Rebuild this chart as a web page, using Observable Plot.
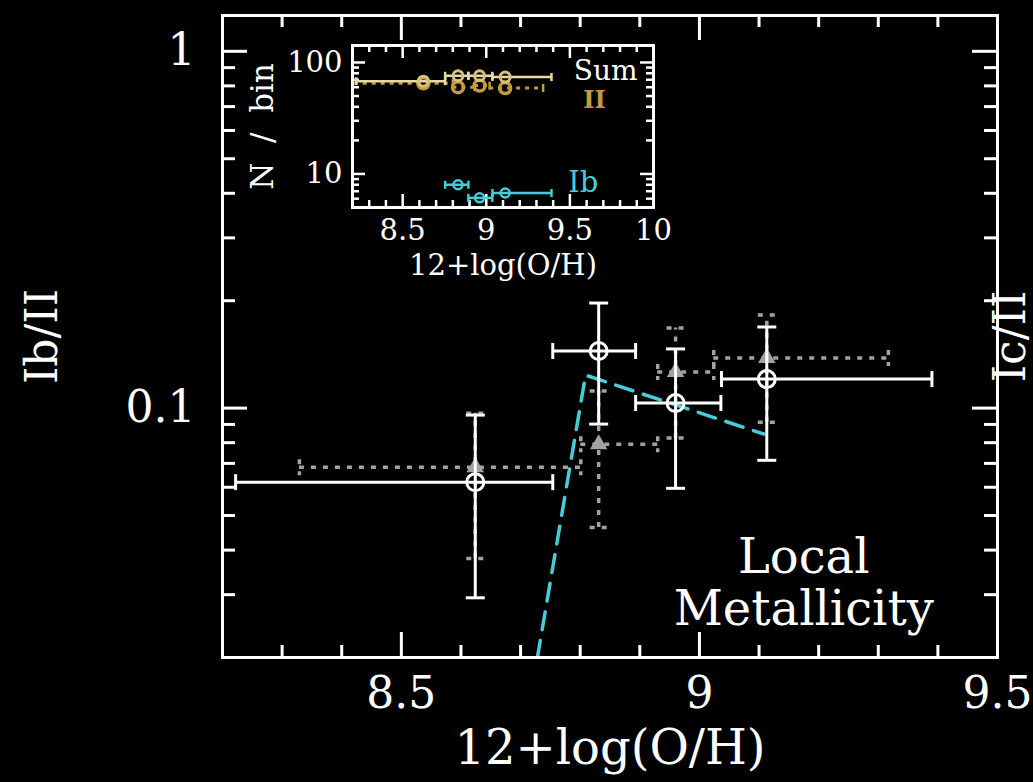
<!DOCTYPE html>
<html><head><meta charset="utf-8">
<script src="https://cdn.jsdelivr.net/npm/d3@7"></script>
<script src="https://cdn.jsdelivr.net/npm/@observablehq/plot@0.6"></script>
<style>
html,body{margin:0;padding:0;background:#000;}
#wrap{position:relative;width:1033px;height:782px;overflow:hidden;background:#000;}
#inset{position:absolute;left:240px;top:0;}
svg{overflow:visible;}
</style></head><body><div id="wrap"><div id="main"></div><div id="inset"></div></div>
<script>
// ---- main panel data ----
const binX      = [8.624, 8.831, 8.960, 9.113];
const ibX1      = [8.222, 8.754, 8.893, 9.037];
const ibX2      = [8.754, 8.893, 9.036, 9.390];
const ibRatio   = [0.0620, 0.1446, 0.1033, 0.1206];
const ibRatioLo = [0.0294, 0.0902, 0.0596, 0.0714];
const ibRatioHi = [0.0956, 0.1970, 0.1465, 0.1688];
const icX1      = [8.329, 8.801, 8.930, 9.024];
const icX2      = [8.801, 8.930, 9.024, 9.317];
const icRatio   = [0.0683, 0.0792, 0.1262, 0.1382];
const icRatioLo = [0.0379, 0.0463, 0.0824, 0.0913];
const icRatioHi = [0.0968, 0.1116, 0.1678, 0.1825];
const modelX    = [8.728, 8.809, 9.108];
const modelY    = [0.0199, 0.1237, 0.0846];
const xTickLabels = [8.5, 9, 9.5];
const xMajor = [8.5, 9.0];
const xMinor = [8.3, 8.4, 8.6, 8.7, 8.8, 8.9, 9.1, 9.2, 9.3, 9.4];
const yTickLabels = [0.1, 1];
const yMinor = [0.03, 0.04, 0.05, 0.06, 0.07, 0.08, 0.09, 0.2, 0.3, 0.4, 0.5, 0.6, 0.7, 0.8, 0.9];
const noteText = ["Local\nMetallicity"];
const noteY = [0.0325];
const noteX = [9.175];

// ---- inset data ----
const sumN = [68, 76, 76, 74];
const iiN  = [65, 60, 62, 59];
const ibN  = [3.8, 8.0, 6.1, 6.75];
const iiX1 = [8.21, 8.80, 8.93, 9.02];
const iiX2 = [8.80, 8.93, 9.02, 9.34];
const insetXLabels = [8.5, 9, 9.5, 10];
const insetXMajor = [8.5, 9.0, 9.5];
const insetXMinor = [8.3,8.4,8.6,8.7,8.8,8.9,9.1,9.2,9.3,9.4,9.6,9.7,9.8,9.9];
const insetYLabels = [10, 100];
const insetYMinor = [6,7,8,9,20,30,40,50,60,70,80,90];

const WHITE = "#ffffff", GRAY = "#a2a2a2", CYAN = "#45cdd8", GOLD = "#c49a3e", CREAM = "#e6d9a4";
const hCap = {draw(ctx, size){ const r = Math.sqrt(size/Math.PI); ctx.moveTo(-r,0); ctx.lineTo(r,0); }};
const vCap = {draw(ctx, size){ const r = Math.sqrt(size/Math.PI); ctx.moveTo(0,-r); ctx.lineTo(0,r); }};

const rows = binX.map((x, i) => ({
  x, ibX1: ibX1[i], ibX2: ibX2[i], ib: ibRatio[i], ibLo: ibRatioLo[i], ibHi: ibRatioHi[i],
  icX1: icX1[i], icX2: icX2[i], ic: icRatio[i], icLo: icRatioLo[i], icHi: icRatioHi[i],
  sum: sumN[i], ii: iiN[i], ibN: ibN[i], iiX1: iiX1[i], iiX2: iiX2[i]
}));
const model = modelX.map((x, i) => ({x, y: modelY[i]}));
const notes = noteText.map((t, i) => ({t, x: noteX[i], y: noteY[i]}));

const FW = 775, FH = 642;
const dotted = {stroke: GRAY, strokeWidth: 3.5, strokeDasharray: "5,7"};
const solid = {stroke: WHITE, strokeWidth: 3};

const main = Plot.plot({
  width: 1033, height: 782,
  marginLeft: 222, marginRight: 36, marginTop: 15, marginBottom: 125,
  style: {background: "#000", color: WHITE, fontFamily: "DejaVu Serif"},
  x: {type: "linear", domain: [8.2, 9.5]},
  y: {type: "log", domain: [0.02, 1.26]},
  marks: [
    // ticks on all four sides, inward
    Plot.ruleX(xMinor, {x: d => d, ...solid, insetTop: FH - 12}),
    Plot.ruleX(xMajor, {x: d => d, ...solid, insetTop: FH - 25}),
    Plot.ruleX(xMinor, {x: d => d, ...solid, insetBottom: FH - 12}),
    Plot.ruleX(xMajor, {x: d => d, ...solid, insetBottom: FH - 25}),
    Plot.ruleY(yMinor, {y: d => d, ...solid, insetRight: FW - 13}),
    Plot.ruleY([0.1, 1], {y: d => d, ...solid, insetRight: FW - 25}),
    Plot.ruleY(yMinor, {y: d => d, ...solid, insetLeft: FW - 13}),
    Plot.ruleY([0.1, 1], {y: d => d, ...solid, insetLeft: FW - 25}),
    Plot.axisX({ticks: xTickLabels, tickSize: 0, tickPadding: 19, fontSize: 44, tickFormat: d => String(d), label: null}),
    Plot.axisY({ticks: yTickLabels, tickSize: 0, tickPadding: 27, fontSize: 44, tickFormat: d => String(d), label: null}),
    // Ic/II gray dotted
    Plot.ruleY(rows, {y: "ic", x1: "icX1", x2: "icX2", ...dotted}),
    Plot.ruleX(rows, {x: "x", y1: "icLo", y2: "icHi", ...dotted}),
    Plot.dot(rows, {x: "icX1", y: "ic", symbol: vCap, r: 8, fill: "none", ...dotted}),
    Plot.dot(rows, {x: "icX2", y: "ic", symbol: vCap, r: 8, fill: "none", ...dotted}),
    Plot.dot(rows, {x: "x", y: "icLo", symbol: hCap, r: 9, fill: "none", ...dotted}),
    Plot.dot(rows, {x: "x", y: "icHi", symbol: hCap, r: 9, fill: "none", ...dotted}),
    Plot.dot(rows, {x: "x", y: "ic", symbol: "triangle", r: 6.5, fill: GRAY, stroke: "none"}),
    // model
    Plot.line(model, {x: "x", y: "y", stroke: CYAN, strokeWidth: 3.5, strokeDasharray: "18,11", clip: true}),
    // Ib/II white
    Plot.ruleY(rows, {y: "ib", x1: "ibX1", x2: "ibX2", ...solid}),
    Plot.ruleX(rows, {x: "x", y1: "ibLo", y2: "ibHi", ...solid}),
    Plot.dot(rows, {x: "ibX1", y: "ib", symbol: vCap, r: 8, fill: "none", ...solid}),
    Plot.dot(rows, {x: "ibX2", y: "ib", symbol: vCap, r: 8, fill: "none", ...solid}),
    Plot.dot(rows, {x: "x", y: "ibLo", symbol: hCap, r: 9.5, fill: "none", ...solid}),
    Plot.dot(rows, {x: "x", y: "ibHi", symbol: hCap, r: 9.5, fill: "none", ...solid}),
    Plot.dot(rows, {x: "x", y: "ib", symbol: "circle", r: 8.5, fill: "none", ...solid}),
    // annotations
    Plot.text(notes, {x: "x", y: "y", text: "t", fill: WHITE, fontSize: 48, lineHeight: 1.08, textAnchor: "middle", lineAnchor: "middle"}),
    Plot.text(["12+log(O/H)"], {text: d => d, frameAnchor: "bottom", dy: 91, fontSize: 48, fill: WHITE, textAnchor: "middle", lineAnchor: "middle"}),
    Plot.text(["Ib/II"], {text: d => d, frameAnchor: "left", dx: -180, rotate: -90, fontSize: 44, fill: WHITE, textAnchor: "middle", lineAnchor: "middle"}),
    Plot.text(["Ic/II"], {text: d => d, frameAnchor: "right", dx: 13, rotate: -90, fontSize: 44, fill: WHITE, textAnchor: "middle", lineAnchor: "middle"}),
    Plot.frame({stroke: WHITE, strokeWidth: 3})
  ]
});
document.getElementById("main").appendChild(main);

// ---- inset ----
const IW = 301, IH = 162;
const isolid = {stroke: WHITE, strokeWidth: 2.5};
const inset = Plot.plot({
  width: 460, height: 300,
  marginLeft: 112, marginRight: 47, marginTop: 45, marginBottom: 93,
  style: {background: "transparent", color: WHITE, fontFamily: "DejaVu Serif"},
  x: {type: "linear", domain: [8.2, 10]},
  y: {type: "log", domain: [5, 142]},
  marks: [
    Plot.frame({fill: "#000", stroke: "none"}),
    Plot.ruleX(insetXMinor, {x: d => d, ...isolid, insetTop: IH - 7}),
    Plot.ruleX(insetXMajor, {x: d => d, ...isolid, insetTop: IH - 13}),
    Plot.ruleX(insetXMinor, {x: d => d, ...isolid, insetBottom: IH - 7}),
    Plot.ruleX(insetXMajor, {x: d => d, ...isolid, insetBottom: IH - 13}),
    Plot.ruleY(insetYMinor, {y: d => d, ...isolid, insetRight: IW - 7}),
    Plot.ruleY([10, 100], {y: d => d, ...isolid, insetRight: IW - 13}),
    Plot.ruleY(insetYMinor, {y: d => d, ...isolid, insetLeft: IW - 7}),
    Plot.ruleY([10, 100], {y: d => d, ...isolid, insetLeft: IW - 13}),
    Plot.axisX({ticks: insetXLabels, tickSize: 0, tickPadding: 12, fontSize: 29, tickFormat: d => String(d), label: null}),
    Plot.axisY({ticks: insetYLabels, tickSize: 0, tickPadding: 10, fontSize: 29, tickFormat: d => String(d), label: null}),
    // II gold dotted
    Plot.ruleY(rows, {y: "ii", x1: "iiX1", x2: "iiX2", stroke: GOLD, strokeWidth: 3, strokeDasharray: "4,5", clip: true}),
    Plot.dot(rows, {x: "iiX2", y: "ii", symbol: vCap, r: 4, fill: "none", stroke: GOLD, strokeWidth: 2.5, clip: true}),
    Plot.dot(rows, {x: "x", y: "ii", r: 5.5, fill: "none", stroke: GOLD, strokeWidth: 3.5, clip: true}),
    // Sum
    Plot.ruleY(rows, {y: "sum", x1: "ibX1", x2: "ibX2", stroke: CREAM, strokeWidth: 2.5, clip: true}),
    Plot.dot(rows, {x: "ibX1", y: "sum", symbol: vCap, r: 4, fill: "none", stroke: CREAM, strokeWidth: 2.5, clip: true}),
    Plot.dot(rows, {x: "ibX2", y: "sum", symbol: vCap, r: 4, fill: "none", stroke: CREAM, strokeWidth: 2.5, clip: true}),
    Plot.dot(rows, {x: "x", y: "sum", r: 5, fill: "none", stroke: "#d8c27a", strokeWidth: 3, clip: true}),
    // Ib cyan
    Plot.ruleY(rows, {y: "ibN", x1: "ibX1", x2: "ibX2", stroke: CYAN, strokeWidth: 2.5, clip: true}),
    Plot.dot(rows, {x: "ibX1", y: "ibN", symbol: vCap, r: 4, fill: "none", stroke: CYAN, strokeWidth: 2.5, clip: true}),
    Plot.dot(rows, {x: "ibX2", y: "ibN", symbol: vCap, r: 4, fill: "none", stroke: CYAN, strokeWidth: 2.5, clip: true}),
    Plot.dot(rows, {x: "x", y: "ibN", r: 4.5, fill: "none", stroke: CYAN, strokeWidth: 2.5, clip: true}),
    // labels
    Plot.text(["Sum"], {text: d => d, x: 9.905, y: 83, textAnchor: "end", fontSize: 28, fill: WHITE}),
    Plot.text(["II"], {text: d => d, x: 9.647, y: 45.5, textAnchor: "middle", fontSize: 24, fontWeight: "bold", fill: GOLD}),
    Plot.text(["Ib"], {text: d => d, x: 9.49, y: 8.3, textAnchor: "start", fontSize: 29, fill: CYAN}),
    Plot.text(["12+log(O/H)"], {text: d => d, frameAnchor: "bottom", dy: 58, fontSize: 29, fill: WHITE, textAnchor: "middle", lineAnchor: "middle"}),
    Plot.text(["N\u00a0\u00a0/\u00a0\u00a0bin"], {text: d => d, frameAnchor: "left", dx: -89, rotate: -90, fontSize: 31, fill: WHITE, textAnchor: "middle", lineAnchor: "middle"}),
    Plot.frame({stroke: WHITE, strokeWidth: 3})
  ]
});
document.getElementById("inset").appendChild(inset);
</script></body></html>
